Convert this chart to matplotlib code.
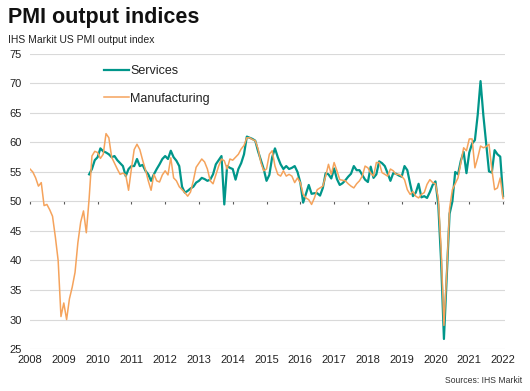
import numpy as np
import matplotlib
matplotlib.use("Agg")
import matplotlib.pyplot as plt

# monthly values, manufacturing from Jan 2008, services from Oct 2009
mfg_start = 2008.0
manufacturing = [
    55.5, 55.0, 54.0, 52.6, 53.2, 49.3, 49.5, 48.6, 47.5, 44.0, 40.0, 30.5,
    32.8, 30.0, 33.5, 35.5, 38.0, 43.0, 46.5, 48.4, 44.7, 50.5, 57.7, 58.5,
    58.3, 57.3, 58.0, 61.5, 60.8, 57.5, 56.5, 55.5, 54.6, 54.8, 54.5, 51.9,
    55.5, 58.8, 59.7, 58.8, 57.0, 55.4, 53.5, 51.9, 54.6, 53.5, 53.3, 54.5,
    55.2, 54.5, 57.4, 54.0, 53.5, 52.5, 52.0, 51.5, 50.9, 51.6, 53.5, 55.8,
    56.5, 57.2, 56.7, 55.5, 53.5, 53.0, 54.5, 56.0, 57.2, 56.9, 55.5, 57.2,
    57.0, 57.5, 58.0, 58.9, 59.5, 60.8, 60.8, 60.5, 60.3, 58.9, 56.6, 55.2,
    55.5, 58.0, 58.6, 56.0, 54.6, 54.3, 55.2, 54.3, 54.6, 54.3, 53.2, 54.0,
    53.2, 51.2, 50.6, 50.3, 49.5, 50.6, 52.0, 52.3, 52.6, 54.3, 56.3, 54.6,
    56.6, 55.2, 53.7, 53.6, 53.5, 53.0, 52.6, 52.3, 53.0, 53.5, 54.3, 56.0,
    55.7, 54.8, 54.3, 56.6, 56.6, 54.9, 54.6, 54.3, 55.5, 55.2, 54.6, 54.6,
    54.3, 53.7, 52.0, 51.2, 51.7, 50.9, 50.6, 51.2, 51.5, 52.9, 53.7, 53.2,
    53.0, 50.5, 42.0, 29.0, 38.0, 48.8, 52.0, 53.0, 54.0, 56.5, 59.1, 58.6,
    60.6, 60.6, 55.7, 57.4, 59.4, 59.1, 59.3, 59.7, 55.5, 52.0, 52.3, 54.0,
    50.5,
]

srv_start = 2009 + 9 / 12
services = [
    54.6, 55.5, 57.0,
    57.5, 59.0, 58.5, 58.3, 58.0, 57.5, 57.7, 57.0, 56.5, 56.0, 54.3, 55.5,
    56.0, 56.0, 57.2, 56.0, 56.2, 55.2, 54.6, 53.5, 54.6, 55.5, 56.3, 57.2,
    57.7, 57.2, 58.6, 57.5, 56.9, 56.0, 52.5, 51.5, 51.8, 52.2, 52.5, 53.2,
    53.5, 54.0, 53.8, 53.5, 53.7, 54.6, 56.3, 57.0, 57.7, 49.5, 56.0, 55.7,
    55.5, 53.7, 55.5, 56.5, 58.0, 61.0, 60.8, 60.6, 60.3, 58.5, 57.0, 55.5,
    53.5, 54.5, 57.5, 59.0, 57.5, 56.3, 55.5, 56.0, 55.5, 55.7, 56.0, 55.0,
    53.2, 49.8, 51.3, 52.8, 51.3, 51.4, 51.4, 51.0, 52.3, 54.8, 54.6, 53.9,
    55.6, 53.8, 52.8, 53.1, 53.6, 54.2, 54.7, 56.0, 55.3, 55.3, 54.5, 53.7,
    53.3, 55.9, 54.0, 54.6, 56.8, 56.5, 56.0, 54.8, 53.5, 54.8, 54.7, 54.4,
    54.2, 56.0, 55.3, 53.0, 50.9, 51.5, 53.0, 50.7, 50.9, 50.6, 51.6, 52.8,
    53.4, 49.4, 39.8, 26.7, 37.5, 47.9, 50.0, 55.0, 54.6, 56.9, 58.4, 54.8,
    58.3, 59.8, 60.4, 64.7, 70.4, 64.6, 59.9, 55.1, 54.9, 58.7, 58.0, 57.6,
    50.9,
]

years = list(range(2008, 2023))
yticks = list(range(25, 80, 5))

teal = "#00968a"
orange = "#f5a35c"

plt.rcParams['font.family'] = ['Liberation Sans', 'DejaVu Sans']

fig = plt.figure(figsize=(5.3, 3.91), dpi=100)
ax = fig.add_axes([0.0566, 0.1074, 0.8964, 0.7546])

x_mfg = mfg_start + np.arange(len(manufacturing)) / 12
x_srv = srv_start + np.arange(len(services)) / 12

ax.plot(x_srv, services, color=teal, lw=1.6, label="Services", zorder=3)
ax.plot(x_mfg, manufacturing, color=orange, lw=1.1, label="Manufacturing", zorder=4)

ax.set_xlim(2008, 2022.06)
ax.set_ylim(25, 75)
ax.set_yticks(yticks)
ax.set_xticks(years)
ax.tick_params(axis="both", length=0, labelsize=8, colors="#222222", pad=4)
ax.tick_params(axis="y", pad=6)
ax.grid(axis="y", color="#d9d9d9", lw=0.8)
ax.set_axisbelow(True)
for s in ax.spines.values():
    s.set_visible(False)

# the 50 line with year ticks
sec = ax.secondary_xaxis(0.5)
sec.set_xticks(years)
sec.tick_params(axis="x", direction="out", length=2.5, width=0.8,
                color="#595959", labelbottom=False, labeltop=False, top=False, bottom=True)
sec.spines["bottom"].set_color("#595959")
sec.spines["bottom"].set_linewidth(0.9)
sec.spines["top"].set_visible(False)
for s in ("left", "right"):
    if s in sec.spines:
        sec.spines[s].set_visible(False)

leg = ax.legend(loc="upper left", bbox_to_anchor=(0.186, 0.846), bbox_transform=fig.transFigure,
                frameon=False, fontsize=9, handlelength=2.0, handletextpad=0.15,
                labelspacing=1.25, borderaxespad=0)
for t in leg.get_texts():
    t.set_color("#222222")

fig.text(0.015, 0.955, "PMI output indices", fontsize=15.5, fontweight="bold",
         va="center", ha="left", color="#111111")
fig.text(0.015, 0.898, "IHS Markit US PMI output index", fontsize=7.5,
         va="center", ha="left", color="#222222")
fig.text(0.985, 0.027, "Sources: IHS Markit", fontsize=6.2,
         va="center", ha="right", color="#333333")

fig.savefig("out.png", dpi=100)
